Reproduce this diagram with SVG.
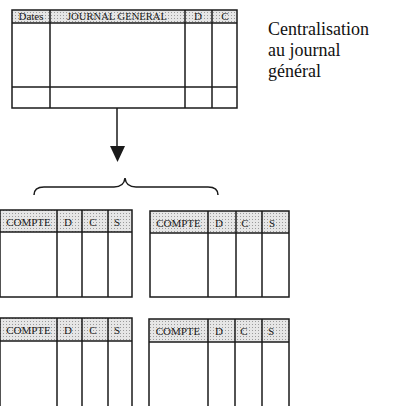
<svg xmlns="http://www.w3.org/2000/svg" width="393" height="406" viewBox="0 0 393 406">
<style>
.b{fill:none;stroke:#1a1a1a;stroke-width:1.5}
.l{stroke:#1a1a1a;stroke-width:1.5}
.h{fill:url(#dots)}
.t{font-family:"Liberation Serif","DejaVu Serif",serif;font-size:11px;fill:#1a1a1a;text-anchor:middle}
.c{font-family:"Liberation Serif","DejaVu Serif",serif;font-size:18px;fill:#111}
</style>
<defs>
<pattern id="dots" width="3" height="3" patternUnits="userSpaceOnUse">
<rect width="3" height="3" fill="#e6e6e6"/>
<rect width="1" height="1" fill="#9a9a9a"/>
</pattern>
</defs>
<rect width="393" height="406" fill="#fff"/>
<g id="journal">
<rect class="h" x="12" y="10" width="225" height="13"/>
<rect class="b" x="12" y="10" width="225" height="98"/>
<line class="l" x1="12" y1="23" x2="237" y2="23"/>
<line class="l" x1="12" y1="87" x2="237" y2="87"/>
<line class="l" x1="50" y1="10" x2="50" y2="108"/>
<line class="l" x1="185" y1="10" x2="185" y2="108"/>
<line class="l" x1="212" y1="10" x2="212" y2="108"/>
<text class="t" x="31" y="20" textLength="25" lengthAdjust="spacingAndGlyphs">Dates</text>
<text class="t" x="117" y="20" textLength="100" lengthAdjust="spacingAndGlyphs">JOURNAL GENERAL</text>
<text class="t" x="198" y="20">D</text>
<text class="t" x="225" y="20">C</text>
</g>
<g id="label">
<text class="c" x="268" y="35">Centralisation</text>
<text class="c" x="268" y="56">au journal</text>
<text class="c" x="268" y="77">général</text>
</g>
<g id="connectors">
<line class="l" x1="117" y1="108" x2="117" y2="148"/>
<polygon points="110,146 125,146 117.5,162" fill="#1a1a1a"/>
<path class="b" d="M34,195 Q34,187 44,187 L114,187 Q124,187 125,178 Q126,187 136,187 L208,187 Q218,187 218,195"/>
</g>
<g id="compte1">
<rect class="h" x="0" y="210" width="132" height="22"/>
<rect class="b" x="0" y="210" width="132" height="87"/>
<line class="l" x1="0" y1="232" x2="132" y2="232"/>
<line class="l" x1="57" y1="210" x2="57" y2="297"/>
<line class="l" x1="82" y1="210" x2="82" y2="297"/>
<line class="l" x1="108" y1="210" x2="108" y2="297"/>
<text class="t" x="28.5" y="226">COMPTE</text>
<text class="t" x="68" y="226">D</text>
<text class="t" x="93" y="226">C</text>
<text class="t" x="117" y="226">S</text>
</g>
<g id="compte2">
<rect class="h" x="150" y="211" width="139" height="22"/>
<rect class="b" x="150" y="211" width="139" height="86"/>
<line class="l" x1="150" y1="233" x2="289" y2="233"/>
<line class="l" x1="208" y1="211" x2="208" y2="297"/>
<line class="l" x1="236" y1="211" x2="236" y2="297"/>
<line class="l" x1="262" y1="211" x2="262" y2="297"/>
<text class="t" x="178.5" y="227">COMPTE</text>
<text class="t" x="219" y="227">D</text>
<text class="t" x="245" y="227">C</text>
<text class="t" x="272" y="227">S</text>
</g>
<g id="compte3">
<rect class="h" x="0" y="318" width="132" height="23"/>
<rect class="b" x="0" y="318" width="132" height="95"/>
<line class="l" x1="0" y1="341" x2="132" y2="341"/>
<line class="l" x1="57" y1="318" x2="57" y2="406"/>
<line class="l" x1="82" y1="318" x2="82" y2="406"/>
<line class="l" x1="108" y1="318" x2="108" y2="406"/>
<text class="t" x="28.5" y="334">COMPTE</text>
<text class="t" x="68" y="334">D</text>
<text class="t" x="93" y="334">C</text>
<text class="t" x="117" y="334">S</text>
</g>
<g id="compte4">
<rect class="h" x="149" y="319" width="140" height="23"/>
<rect class="b" x="149" y="319" width="140" height="95"/>
<line class="l" x1="149" y1="342" x2="289" y2="342"/>
<line class="l" x1="208" y1="319" x2="208" y2="406"/>
<line class="l" x1="235" y1="319" x2="235" y2="406"/>
<line class="l" x1="262" y1="319" x2="262" y2="406"/>
<text class="t" x="178" y="335">COMPTE</text>
<text class="t" x="219" y="335">D</text>
<text class="t" x="244" y="335">C</text>
<text class="t" x="271" y="335">S</text>
</g>
</svg>
